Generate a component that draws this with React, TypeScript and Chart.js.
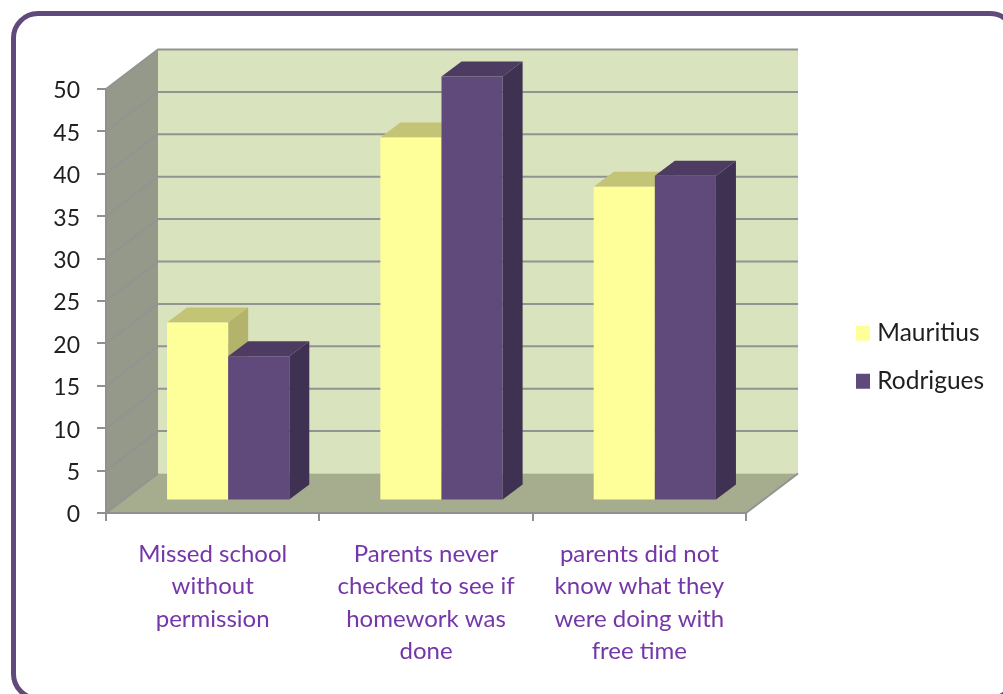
import React, { useEffect, useRef } from "react";
import { Chart, registerables } from "chart.js";

Chart.register(...registerables);

const categories = [
  ["Missed school", "without", "permission"],
  ["Parents never", "checked to see if", "homework was", "done"],
  ["parents did not", "know what they", "were doing with", "free time"],
];
const mauritius = [21, 42.8, 37];
const rodrigues = [17, 50, 38.3];
const seriesNames = ["Mauritius", "Rodrigues"];
const frontColors = ["#FFFF99", "#604A7B"];
const topColors = ["#C4C477", "#4D3B62"];
const sideColors = ["#B3B36B", "#3F3151"];

const FONT = "Lato";
const WALL = { dx: 52, dy: 39.5 };
const BAR = { dx: 20, dy: 15, tx: 15.5, ty: -12.5 };

function poly(ctx: CanvasRenderingContext2D, pts: number[][], fill: string) {
  ctx.beginPath();
  pts.forEach((p, i) => (i ? ctx.lineTo(p[0], p[1]) : ctx.moveTo(p[0], p[1])));
  ctx.closePath();
  ctx.fillStyle = fill;
  ctx.fill();
}

const box3d = {
  id: "box3d",
  afterLayout(chart: any) {
    const lg = chart.legend;
    lg.left = 861 - lg.options.labels.padding;
    lg.right = 1003;
    lg.top = 321 - lg.options.labels.padding;
    lg.bottom = 420;
  },
  beforeDraw(chart: any) {
    const { ctx, chartArea: a, scales } = chart;
    const { dx, dy } = WALL;
    if (!chart.$labelsNudged) {
      scales.y.getLabelItems().forEach((it: any) => { it.options.translation[1] += 2; });
      chart.$labelsNudged = true;
    }
    ctx.save();
    poly(ctx, [[a.left + dx, a.top - dy], [a.right + dx, a.top - dy], [a.right + dx, a.bottom - dy], [a.left + dx, a.bottom - dy]], "#D9E3BE");
    poly(ctx, [[a.left, a.top], [a.left + dx, a.top - dy], [a.left + dx, a.bottom - dy], [a.left, a.bottom]], "#95998A");
    poly(ctx, [[a.left, a.bottom], [a.right, a.bottom], [a.right + dx, a.bottom - dy], [a.left + dx, a.bottom - dy]], "#A5AD8E");
    ctx.strokeStyle = "#929492";
    ctx.lineWidth = 2;
    scales.y.ticks.forEach((t: any) => {
      const y = scales.y.getPixelForValue(t.value);
      ctx.beginPath();
      ctx.moveTo(a.left, y);
      ctx.lineTo(a.left + dx, y - dy);
      if (t.value > 0) ctx.lineTo(a.right + dx, y - dy);
      else {
        ctx.moveTo(a.right, y);
        ctx.lineTo(a.right + dx, y - dy);
      }
      ctx.stroke();
    });
    ctx.restore();
  },
  beforeDatasetsDraw(chart: any) {
    const { ctx } = chart;
    chart.data.datasets.forEach((_: any, i: number) => {
      const meta = chart.getDatasetMeta(i);
      ctx.save();
      ctx.translate(BAR.tx, BAR.ty);
      meta.data.forEach((el: any) => {
        const { x, y, base, width } = el.getProps(["x", "y", "base", "width"], true);
        const l = x - width / 2;
        const r = x + width / 2;
        poly(ctx, [[l, y], [r, y], [r + BAR.dx, y - BAR.dy], [l + BAR.dx, y - BAR.dy]], topColors[i]);
        poly(ctx, [[r, y], [r + BAR.dx, y - BAR.dy], [r + BAR.dx, base - BAR.dy], [r, base]], sideColors[i]);
      });
      meta.controller.draw();
      ctx.restore();
    });
    return false;
  },
};

export default function App() {
  const ref = useRef<HTMLCanvasElement>(null);
  useEffect(() => {
    const chart = new Chart(ref.current as HTMLCanvasElement, {
      type: "bar",
      plugins: [box3d],
      data: {
        labels: categories as any,
        datasets: [
          { label: seriesNames[0], data: mauritius, backgroundColor: frontColors[0] },
          { label: seriesNames[1], data: rodrigues, backgroundColor: frontColors[1] },
        ],
      },
      options: {
        responsive: false,
        animation: false,
        layout: { padding: { top: 89, right: 157, bottom: 0, left: 0 } },
        datasets: { bar: { categoryPercentage: 0.573, barPercentage: 1 } },
        plugins: {
          tooltip: { enabled: false },
          legend: {
            position: "right",
            align: "start",
            maxWidth: 100,
            labels: {
              color: "#1F1F1F",
              font: { family: FONT, size: 24.5 },
              boxWidth: 4,
              boxHeight: 5,
              padding: 23.5,
              generateLabels: () =>
                seriesNames.map((text, i) => ({
                  text,
                  datasetIndex: i,
                  fillStyle: frontColors[i],
                  strokeStyle: frontColors[i],
                  lineWidth: 10,
                  lineJoin: "miter",
                  fontColor: "#1F1F1F",
                })),
            },
          },
        },
        scales: {
          x: {
            afterFit: (s: any) => { s.height = 181; },
            grid: { drawOnChartArea: false, tickLength: 8, color: "#8F918F", lineWidth: 2 },
            border: { color: "#8F918F", width: 2 },
            ticks: {
              color: "#7436A8",
              font: { family: FONT, size: 24, lineHeight: 1.35 },
              padding: 17,
              maxRotation: 0,
              autoSkip: false,
            },
          },
          y: {
            min: 0,
            max: 50,
            afterFit: (s: any) => { s.width = 106; },
            grid: { drawOnChartArea: false, tickLength: 9, color: "#8F918F", lineWidth: 2 },
            border: { color: "#8F918F", width: 2 },
            ticks: {
              stepSize: 5,
              color: "#1F1F1F",
              font: { family: FONT, size: 23 },
              padding: 17,
            },
          },
        },
      } as any,
    });
    return () => chart.destroy();
  }, []);
  return (
    <div style={{ position: "fixed", inset: 0, overflow: "hidden", background: "#fff" }}>
      <div
        style={{
          position: "absolute",
          left: 11,
          top: 11,
          width: 1006,
          height: 690,
          boxSizing: "border-box",
          border: "5px solid #604A7B",
          borderRadius: 27,
        }}
      />
      <canvas ref={ref} width={1003} height={694} style={{ position: "absolute", left: 0, top: 0 }} />
    </div>
  );
}
